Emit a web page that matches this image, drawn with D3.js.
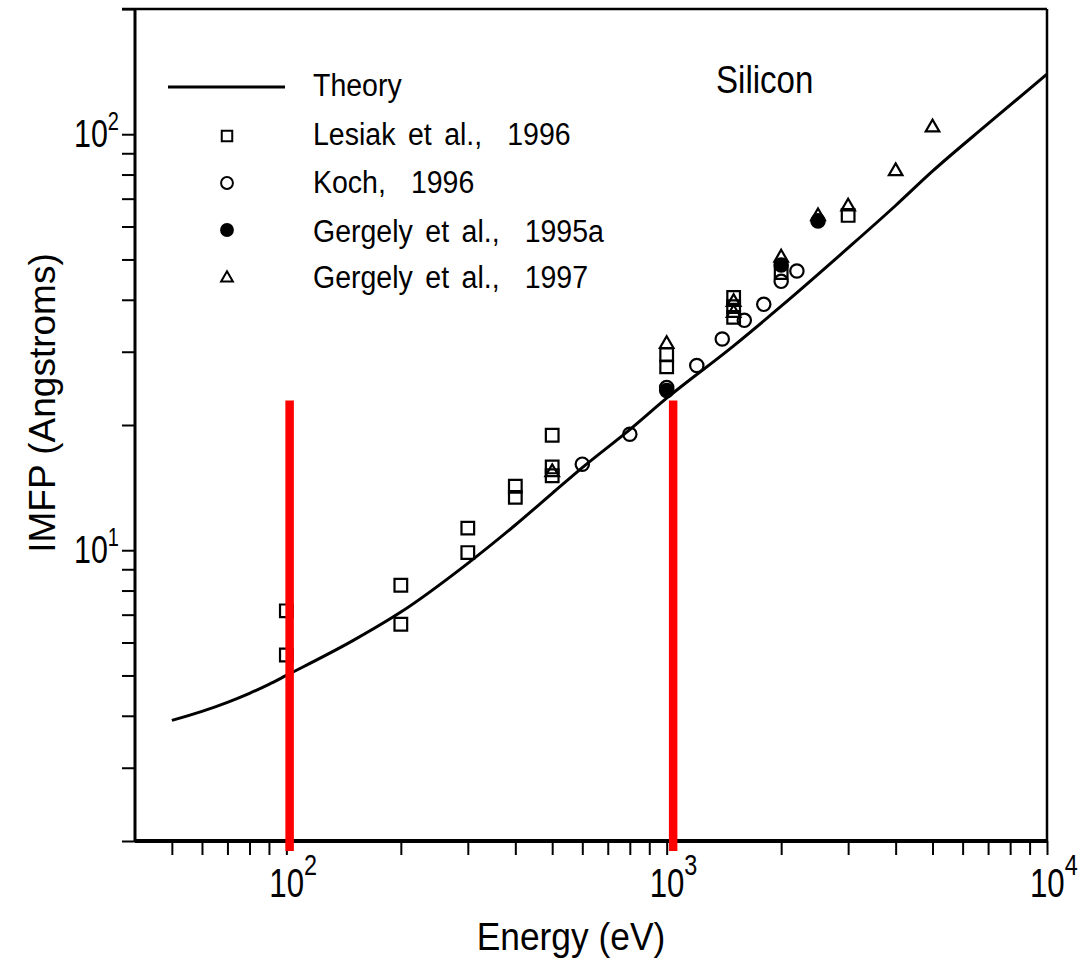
<!DOCTYPE html>
<html>
<head>
<meta charset="utf-8">
<script src="https://cdn.jsdelivr.net/npm/d3@7"></script>
<style>
  html, body { margin: 0; padding: 0; background: #fff; }
  svg { display: block; }
  text { font-family: "Liberation Sans", Arial, sans-serif; fill: #000; }
</style>
</head>
<body>
<svg id="chart" width="1090" height="968"></svg>
<script>
// theory curve (Energy eV -> IMFP Angstroms)
const theoryEnergy = [50, 60, 70, 80, 90, 100, 150, 200, 300, 400, 500, 600, 800, 1000, 1500, 2000, 3000, 4000, 5000, 7000, 10000];
const theoryImfp   = [3.90, 4.10, 4.31, 4.53, 4.76, 5.0, 6.07, 7.1, 9.3, 11.5, 13.7, 15.8, 19.5, 23.2, 31.0, 38.6, 53.3, 67.4, 81.5, 106, 139.5];

// Lesiak et al., 1996 (squares)
const lesiakEnergy = [100, 100, 200, 200, 300, 300, 400, 400, 500, 500, 500, 1000, 1000, 1500, 1500, 1500, 2000, 3000];
const lesiakImfp   = [7.15, 5.6, 8.24, 6.64, 11.3, 9.87, 14.25, 13.4, 18.9, 15.86, 15.1, 29.5, 27.6, 40.5, 38.5, 36.3, 46.5, 63.8];

// Koch, 1996 (open circles)
const kochEnergy = [600, 800, 1000, 1200, 1400, 1600, 1800, 2000, 2200];
const kochImfp   = [16.1, 19.0, 24.6, 27.8, 32.2, 35.7, 39.0, 44.3, 46.9];

// Gergely et al., 1995a (filled circles)
const gergely95Energy = [1000, 2000, 2500];
const gergely95Imfp   = [24.2, 48.5, 61.9];

// Gergely et al., 1997 (triangles)
const gergely97Energy = [500, 1000, 1500, 1500, 2000, 2500, 3000, 4000, 5000];
const gergely97Imfp   = [15.4, 31.3, 39.5, 37.2, 50.5, 63.5, 67.0, 81.5, 103.8];

// red marker lines drawn over the figure
const redLineEnergy = [102, 1040];
const redLineTop = 22.9;

const xMajor = [100, 1000, 10000];
const xMinor = [50, 60, 70, 80, 90, 200, 300, 400, 500, 600, 700, 800, 900,
                2000, 3000, 4000, 5000, 6000, 7000, 8000, 9000];
const yMajor = [10, 100];
const yMinor = [2, 3, 4, 5, 6, 7, 8, 9, 20, 30, 40, 50, 60, 70, 80, 90, 200];

const legendLabels = ["Theory", "Lesiak et al.,  1996", "Koch,  1996", "Gergely et al.,  1995a", "Gergely et al.,  1997"];

const svg = d3.select("#chart");
const plotLeft = 135, plotRight = 1047, plotTop = 9, plotBottom = 841;

const x = d3.scaleLog().domain([40, 10000]).range([plotLeft, plotRight]);
const y = d3.scaleLog().domain([2, 200]).range([plotBottom, plotTop]);

// helper for the narrow plotter-style text
function label(parent, px, py, parts, opts) {
    const g = parent.append("g")
        .attr("transform", `translate(${px},${py}) scale(${opts.sx || 1},1)`);
    const t = g.append("text")
        .attr("text-anchor", opts.anchor || "start")
        .style("font-size", opts.size + "px")
        .style("white-space", "pre")
        .style("word-spacing", (opts.ws || 0) + "px");
    parts.forEach(p => {
        t.append("tspan")
            .attr("dy", p.dy || 0)
            .style("font-size", (p.size || opts.size) + "px")
            .text(p.text);
    });
    return g;
}

// x-axis ticks
const xAxis = svg.append("g")
    .attr("transform", `translate(0,${plotBottom})`)
    .call(d3.axisBottom(x).tickValues(xMinor.concat(xMajor)).tickSize(14).tickFormat(""));
xAxis.select(".domain").remove();
xAxis.selectAll(".tick line").attr("stroke", "#000").attr("stroke-width", 2);

// y-axis ticks
const yAxis = svg.append("g")
    .attr("transform", `translate(${plotLeft},0)`)
    .call(d3.axisLeft(y).tickValues(yMinor.concat(yMajor)).tickSize(13).tickFormat(""));
yAxis.select(".domain").remove();
yAxis.selectAll(".tick line").attr("stroke", "#000").attr("stroke-width", 2);

// frame
svg.append("line").attr("x1", plotLeft).attr("x2", plotRight).attr("y1", plotBottom).attr("y2", plotBottom)
    .attr("stroke", "#000").attr("stroke-width", 4);
svg.append("line").attr("x1", plotLeft).attr("x2", plotLeft).attr("y1", plotTop).attr("y2", plotBottom)
    .attr("stroke", "#000").attr("stroke-width", 3);
svg.append("line").attr("x1", plotLeft - 13).attr("x2", plotRight).attr("y1", plotTop).attr("y2", plotTop)
    .attr("stroke", "#000").attr("stroke-width", 2.5);
svg.append("line").attr("x1", plotRight).attr("x2", plotRight).attr("y1", plotTop).attr("y2", plotBottom)
    .attr("stroke", "#000").attr("stroke-width", 2.5);

// tick labels
const exps = { 10: "1", 100: "2", 1000: "3", 10000: "4" };
xMajor.forEach(v => {
    label(svg, x(v) - 17, 897, [
        { text: "10" },
        { text: exps[v], size: 30, dy: -22 }
    ], { size: 40, sx: 0.78 });
});
yMajor.forEach(v => {
    label(svg, 119, y(v) + 13, [
        { text: "10" },
        { text: exps[v], size: 25, dy: -17 }
    ], { size: 38, sx: 0.8, anchor: "end" });
});

// axis titles
label(svg, 571, 950, [{ text: "Energy (eV)" }], { size: 38, sx: 0.93, anchor: "middle" });
svg.append("text")
    .attr("transform", `translate(55,403) rotate(-90)`)
    .attr("text-anchor", "middle")
    .style("font-size", "37px")
    .text("IMFP (Angstroms)");

label(svg, 716, 93, [{ text: "Silicon" }], { size: 38, sx: 0.87 });

// theory line
const line = d3.line()
    .x(d => x(d[0]))
    .y(d => y(d[1]))
    .curve(d3.curveMonotoneX);
svg.append("path")
    .datum(theoryEnergy.map((e, i) => [e, theoryImfp[i]]))
    .attr("d", line)
    .attr("fill", "none")
    .attr("stroke", "#000")
    .attr("stroke-width", 3);

// markers
const shapes = {
    square: d3.symbol().type(d3.symbolSquare).size(160),
    circle: d3.symbol().type(d3.symbolCircle).size(140),
    triangle: d3.symbol().type(d3.symbolTriangle).size(80)
};

function drawSeries(energy, imfp, shape, filled) {
    svg.append("g").selectAll("path")
        .data(energy.map((e, i) => [e, imfp[i]]))
        .join("path")
        .attr("transform", d => `translate(${x(d[0])},${y(d[1])})`)
        .attr("d", shapes[shape]())
        .attr("fill", filled ? "#000" : "none")
        .attr("stroke", "#000")
        .attr("stroke-width", 2.2);
}

drawSeries(lesiakEnergy, lesiakImfp, "square", false);
drawSeries(kochEnergy, kochImfp, "circle", false);
drawSeries(gergely95Energy, gergely95Imfp, "circle", true);
drawSeries(gergely97Energy, gergely97Imfp, "triangle", false);

// legend
const legend = svg.append("g");
legend.append("line").attr("x1", 168).attr("x2", 285).attr("y1", 87).attr("y2", 87)
    .attr("stroke", "#000").attr("stroke-width", 3);
const legendShapes = [["square", false], ["circle", false], ["circle", true], ["triangle", false]];
const legendRowY = [136, 183, 230, 278];
legendShapes.forEach(([s, f], i) => {
    legend.append("path")
        .attr("transform", `translate(227,${legendRowY[i]})`)
        .attr("d", d3.symbol().type(s === "square" ? d3.symbolSquare : s === "circle" ? d3.symbolCircle : d3.symbolTriangle)
            .size(s === "triangle" ? 60 : 110)())
        .attr("fill", f ? "#000" : "none")
        .attr("stroke", "#000")
        .attr("stroke-width", 2);
});
const legendBase = [96, 145, 193, 242, 288];
legendLabels.forEach((t, i) => {
    label(legend, 313, legendBase[i], [{ text: t }], { size: 31, sx: 0.92, ws: 5 });
});

// red annotation lines
svg.append("g").selectAll("line")
    .data(redLineEnergy)
    .join("line")
    .attr("x1", d => x(d)).attr("x2", d => x(d))
    .attr("y1", y(redLineTop))
    .attr("y2", plotBottom + 10)
    .attr("stroke", "#ff0000")
    .attr("stroke-width", 8.5);
</script>
</body>
</html>
